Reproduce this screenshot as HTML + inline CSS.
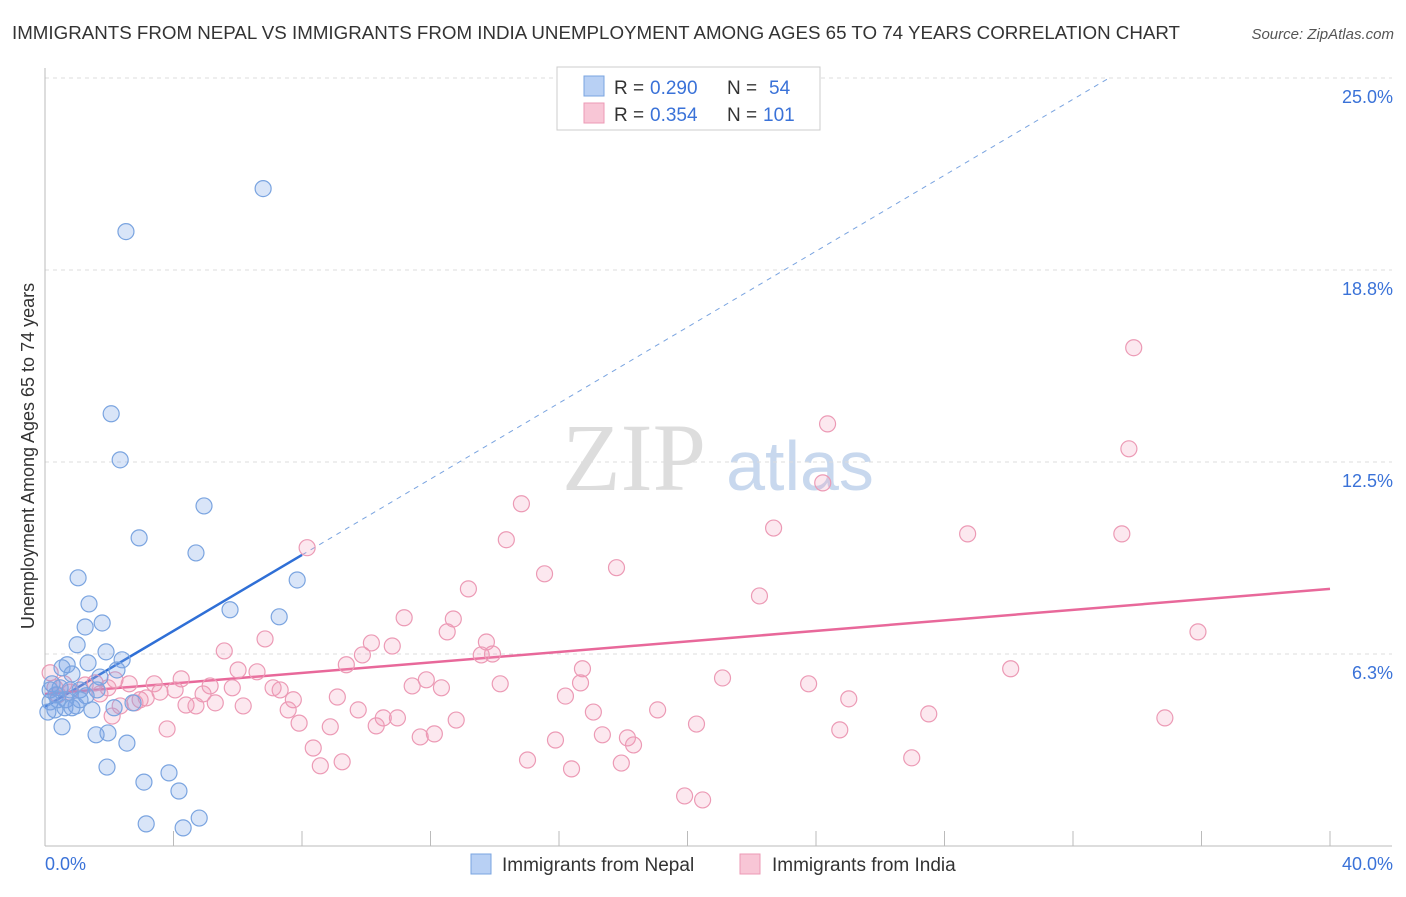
<!DOCTYPE html>
<html><head><meta charset="utf-8"><style>
body{margin:0;background:#fff;width:1406px;height:892px;overflow:hidden;font-family:"Liberation Sans",sans-serif}
</style></head><body>
<svg id="chart" width="1406" height="892" xmlns="http://www.w3.org/2000/svg">
<text x="12" y="39" font-size="18" fill="#333" textLength="1168" lengthAdjust="spacingAndGlyphs">IMMIGRANTS FROM NEPAL VS IMMIGRANTS FROM INDIA UNEMPLOYMENT AMONG AGES 65 TO 74 YEARS CORRELATION CHART</text>
<text x="1394" y="39" font-size="15" fill="#555" font-style="italic" text-anchor="end">Source: ZipAtlas.com</text>
<text transform="translate(34,456) rotate(-90)" font-size="18" fill="#333" text-anchor="middle">Unemployment Among Ages 65 to 74 years</text>
<g><text x="634" y="490" font-size="96" font-family="Liberation Serif,serif" fill="#ddd" text-anchor="middle">ZIP</text><text x="800" y="490" font-size="70" fill="#c8d8ee" text-anchor="middle">atlas</text></g>
<g id="grid"></g><g id="axes"></g><g id="lines"></g><g id="pts"></g>
<g>
<rect x="557" y="67" width="263" height="63" fill="#fff" stroke="#ccc"/>
<rect x="584" y="76" width="20" height="20" fill="#b8d0f4" stroke="#7aa4e0"/>
<rect x="584" y="103" width="20" height="20" fill="#f8c6d6" stroke="#ec9ab5"/>
<text y="94" font-size="19" fill="#333"><tspan x="614">R =</tspan><tspan x="650" fill="#3a72d8">0.290</tspan><tspan x="727">N =</tspan><tspan x="769" fill="#3a72d8">54</tspan></text>
<text y="121" font-size="19" fill="#333"><tspan x="614">R =</tspan><tspan x="650" fill="#3a72d8">0.354</tspan><tspan x="727">N =</tspan><tspan x="763" fill="#3a72d8">101</tspan></text>
</g>
<g>
<rect x="471" y="854" width="20" height="20" fill="#b8d0f4" stroke="#7aa4e0"/>
<text x="502" y="871" font-size="19" fill="#333">Immigrants from Nepal</text>
<rect x="740" y="854" width="20" height="20" fill="#f8c6d6" stroke="#ec9ab5"/>
<text x="772" y="871" font-size="19" fill="#333">Immigrants from India</text>
</g>
</svg>
<script>
const yTicks=[6.3,12.5,18.8,25.0];
const yTickVals=[6.25,12.5,18.75,25];
const xTickVals=[0,4,8,12,16,20,24,28,32,36,40];
const nepalX=[6.79,2.52,2.06,2.34,4.95,2.93,4.70,1.03,7.85,1.37,5.76,7.29,1.78,1.25,1.00,1.90,2.40,0.69,1.34,0.53,0.84,2.24,1.71,0.22,0.47,0.78,1.09,1.62,0.34,0.65,1.28,0.16,0.97,0.31,0.62,1.46,2.15,2.74,0.53,1.59,1.96,2.55,1.93,3.08,3.86,4.17,3.15,4.80,4.30,0.16,0.40,0.84,0.09,1.09];
const nepalY=[21.40,20.00,14.07,12.57,11.07,10.03,9.54,8.73,8.66,7.88,7.69,7.46,7.26,7.13,6.55,6.32,6.06,5.90,5.96,5.80,5.60,5.73,5.50,5.28,5.15,5.08,5.08,5.08,4.92,4.76,4.89,4.69,4.56,4.43,4.50,4.43,4.50,4.66,3.88,3.62,3.68,3.35,2.57,2.08,2.38,1.79,0.72,0.91,0.59,5.08,4.76,4.50,4.36,4.76];
const indiaX=[33.89,24.36,33.74,24.21,14.83,22.68,28.72,33.52,14.36,8.16,17.79,15.55,13.18,22.24,11.18,12.71,35.89,12.52,6.85,13.74,10.16,10.81,9.88,13.58,13.93,9.38,16.73,30.06,6.01,6.60,5.58,4.24,3.40,5.14,5.83,7.32,7.10,2.62,2.18,21.09,11.87,11.43,12.34,16.67,14.17,23.77,3.58,4.05,4.92,3.15,2.80,2.34,2.09,4.39,4.70,5.30,6.17,7.73,9.10,7.57,9.75,16.20,25.02,19.07,17.07,27.51,34.86,10.53,10.97,12.80,7.91,10.31,8.88,20.28,24.74,17.35,12.12,11.68,18.13,18.32,15.89,8.35,15.02,9.25,8.57,16.39,17.94,26.98,19.91,20.47,3.80,0.16,0.31,0.59,1.25,1.56,1.96,0.78,0.40,2.96,1.71];
const indiaY=[16.22,13.74,12.93,11.82,11.14,10.35,10.16,10.16,9.97,9.71,9.06,8.86,8.37,8.14,7.43,7.39,6.97,6.97,6.74,6.64,6.61,6.51,6.22,6.22,6.25,5.90,5.77,5.77,5.73,5.67,6.35,5.44,5.28,5.21,5.15,5.08,5.15,5.28,5.41,5.47,5.41,5.21,5.15,5.31,5.28,5.28,5.01,5.08,4.95,4.82,4.66,4.56,4.23,4.59,4.56,4.66,4.56,4.76,4.85,4.43,4.43,4.88,4.79,4.43,4.36,4.30,4.17,4.17,4.17,4.10,4.00,3.91,3.88,3.97,3.78,3.62,3.65,3.55,3.52,3.29,3.45,3.19,2.80,2.74,2.61,2.51,2.70,2.87,1.63,1.50,3.81,5.64,5.15,5.28,5.24,5.31,5.15,5.01,4.92,4.76,4.95];
const nepalTrend=[4.53,0.618];
const indiaTrend=[4.95,0.0855];
const X=v=>45+v*32.125, Y=v=>846-v*30.72;
const NS='http://www.w3.org/2000/svg';
function mk(t,a,p){const e=document.createElementNS(NS,t);for(const k in a)e.setAttribute(k,a[k]);p.appendChild(e);return e;}
const grid=document.getElementById('grid'),axes=document.getElementById('axes'),lines=document.getElementById('lines'),pts=document.getElementById('pts');
yTickVals.forEach((v,i)=>{
 const g=mk('line',{x1:45,x2:1392,y1:Y(v),y2:Y(v),stroke:'#ddd','stroke-dasharray':'4,4'},grid);
 
 
 const t=mk('text',{x:1393,y:Y(v)+25,'font-size':18,fill:'#3a72d8','text-anchor':'end'},axes);
 t.textContent=yTicks[i].toFixed(1)+'%';
 
 
});
const ax=mk('line',{x1:45,x2:45,y1:68,y2:846,stroke:'#bbb'},axes);


const bx=mk('line',{x1:45,x2:1392,y1:846,y2:846,stroke:'#bbb'},axes);


xTickVals.forEach(v=>{
 const l=mk('line',{x1:X(v),x2:X(v),y1:831,y2:846,stroke:'#bbb'},axes);
 
 
});
[[0,'0.0%','start',45],[40,'40.0%','end',1393]].forEach(d=>{
 const t=mk('text',{x:d[3],y:870,'font-size':18,fill:'#3a72d8','text-anchor':d[2]},axes);
 t.textContent=d[1];
 
 
});
function addPts(xs,ys,fill,stroke,name){xs.forEach((x,i)=>{
 const c=mk('circle',{cx:X(x),cy:Y(ys[i]),r:8,fill:fill,stroke:stroke,'stroke-width':1.2},pts);
 
 
});}
addPts(indiaX,indiaY,'rgba(240,150,180,0.22)','#ec9ab5','india-point');
addPts(nepalX,nepalY,'rgba(120,160,230,0.28)','#7aa4e0','nepal-point');
const xEnd=(25-nepalTrend[0])/nepalTrend[1];
const d1=mk('line',{x1:X(8),y1:Y(nepalTrend[0]+8*nepalTrend[1]),x2:X(xEnd),y2:Y(25),stroke:'#7aa4e0','stroke-width':1,'stroke-dasharray':'5,5'},lines);


const s1=mk('line',{x1:X(0),y1:Y(nepalTrend[0]),x2:X(8),y2:Y(nepalTrend[0]+8*nepalTrend[1]),stroke:'#2f6fd6','stroke-width':2.5},lines);


const s2=mk('line',{x1:X(0),y1:Y(indiaTrend[0]),x2:X(40),y2:Y(indiaTrend[0]+40*indiaTrend[1]),stroke:'#e8689a','stroke-width':2.5},lines);


</script>
</body></html>
